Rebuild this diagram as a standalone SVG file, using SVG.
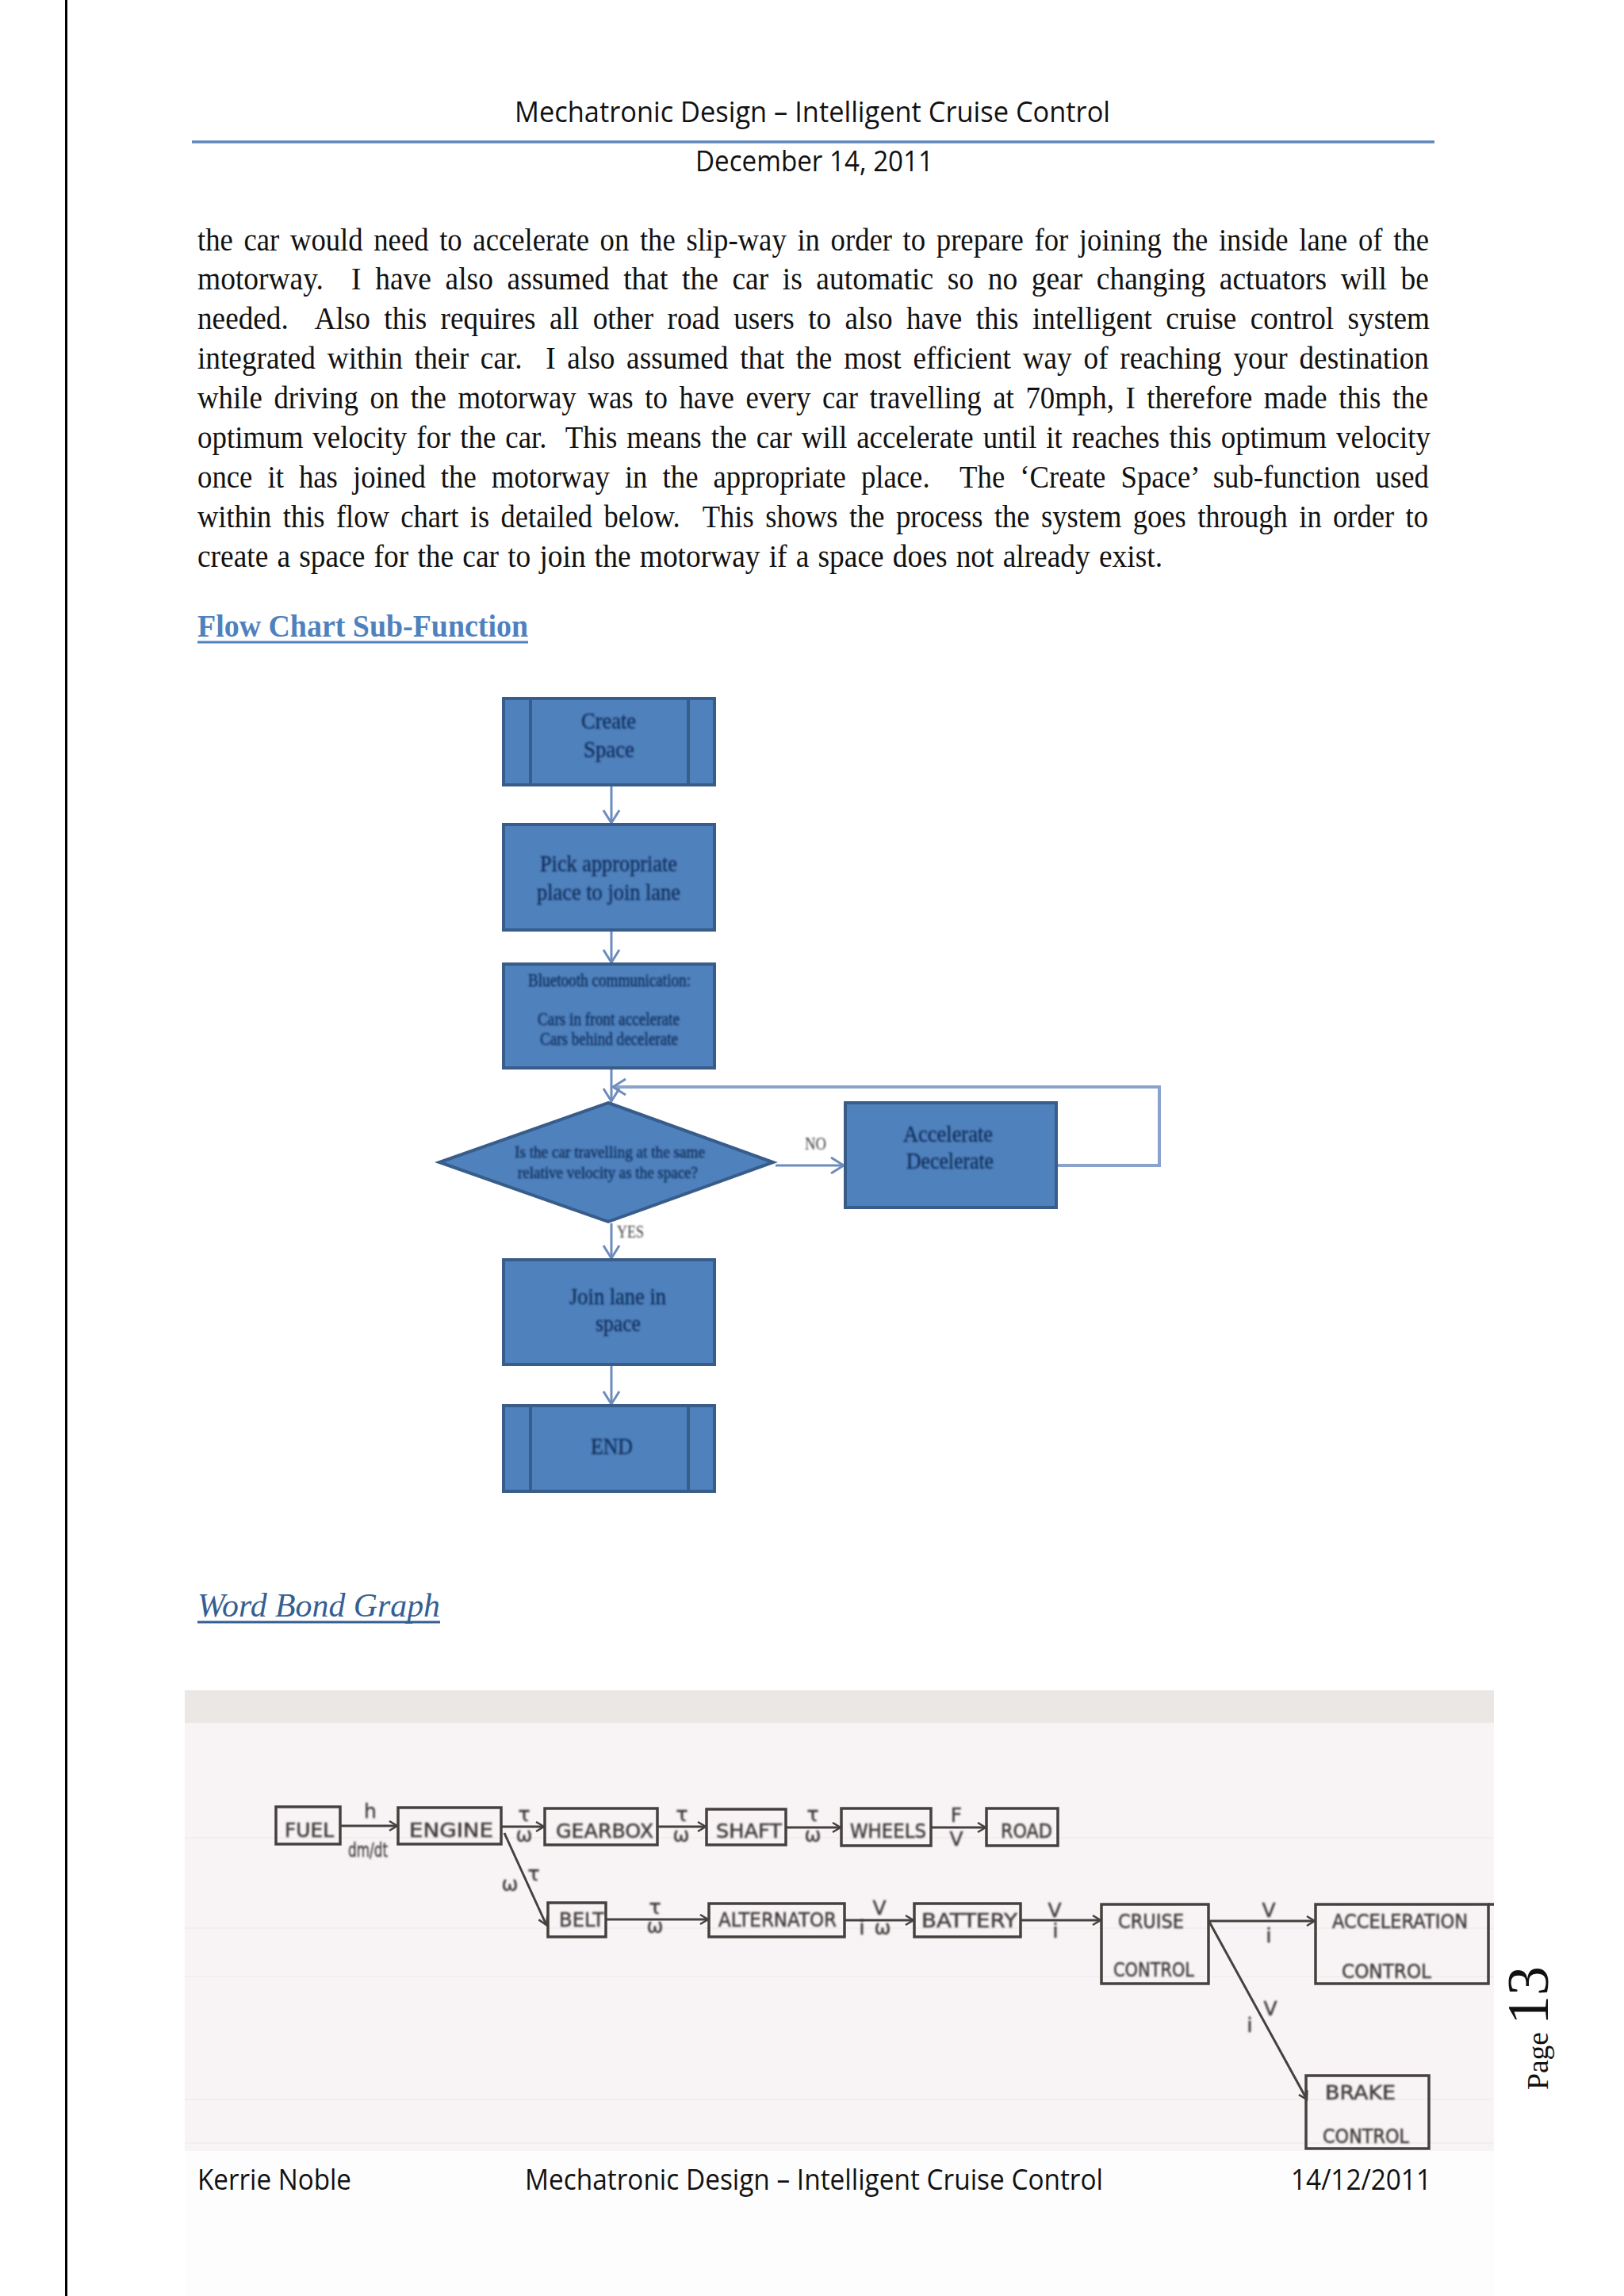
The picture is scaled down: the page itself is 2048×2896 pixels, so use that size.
<svg xmlns="http://www.w3.org/2000/svg" width="2048" height="2896" viewBox="0 0 2048 2896">
<style>
.hdr{font-family:"Open Sans","Noto Sans",sans-serif;font-size:36px;fill:#111}
.body{font-family:"Liberation Serif","Times New Roman",serif;font-size:41px;fill:#111}
.node{fill:#4f81bd;stroke:#385d8a;stroke-width:4}
.bar{fill:none;stroke:#385d8a;stroke-width:4}
.ft{font-family:"Liberation Serif",serif;font-size:29px;fill:#14305c;stroke:#14305c;stroke-width:.4;filter:url(#soft)}
.lbl{font-family:"Liberation Serif",serif;font-size:24px;fill:#3c3c3c;filter:url(#soft)}
.fc{fill:none;stroke:#6d8cbd;stroke-width:3}
.loop{fill:none;stroke:#8ba3cc;stroke-width:4}
.box{fill:none;stroke:#45413f;stroke-width:3.5}
.hw{font-family:"DejaVu Sans",sans-serif;font-size:25px;fill:#3f3b3b;stroke:#3f3b3b;stroke-width:.5;filter:url(#soft)}
.sym{font-family:"DejaVu Sans",sans-serif;font-size:25px;fill:#3f3b3b;stroke:#3f3b3b;stroke-width:.4;text-anchor:middle;filter:url(#soft)}
.wb{fill:none;stroke:#45413f;stroke-width:3}
.rule{stroke:#f2eeef;stroke-width:2}
</style>
<defs>
<filter id="soft" x="-10%" y="-30%" width="120%" height="160%"><feGaussianBlur stdDeviation="0.9"/></filter>
<marker id="fa" markerUnits="userSpaceOnUse" markerWidth="24" markerHeight="26" refX="20" refY="13" orient="auto"><path d="M4 3 L20 13 L4 23" fill="none" stroke="#6d8cbd" stroke-width="3"/></marker>
<marker id="wa" markerUnits="userSpaceOnUse" markerWidth="16" markerHeight="16" refX="13" refY="8" orient="auto"><path d="M3 2 L13 8 L3 14" fill="none" stroke="#45413f" stroke-width="2.5"/></marker>
</defs>
<rect width="2048" height="2896" fill="#ffffff"/>
<rect x="233" y="2713" width="1651" height="183" fill="#fdfdfd"/>
<line x1="83.5" y1="0" x2="83.5" y2="2896" stroke="#000" stroke-width="3"/>

<g id="page-header">
<text class="hdr" x="649" y="154" textLength="751" lengthAdjust="spacingAndGlyphs">Mechatronic Design – Intelligent Cruise Control</text>
<line x1="242" y1="179" x2="1809" y2="179" stroke="#5f86b9" stroke-width="3.5"/>
<text class="hdr" x="877" y="216" textLength="300" lengthAdjust="spacingAndGlyphs">December 14, 2011</text>
</g>

<g id="body-text">
<text class="body" xml:space="preserve" x="249" y="316" word-spacing="5" textLength="1553" lengthAdjust="spacingAndGlyphs">the car would need to accelerate on the slip-way in order to prepare for joining the inside lane of the</text>
<text class="body" xml:space="preserve" x="249" y="365" word-spacing="9" textLength="1553" lengthAdjust="spacingAndGlyphs">motorway.  I have also assumed that the car is automatic so no gear changing actuators will be</text>
<text class="body" xml:space="preserve" x="249" y="415" word-spacing="9" textLength="1554" lengthAdjust="spacingAndGlyphs">needed.  Also this requires all other road users to also have this intelligent cruise control system</text>
<text class="body" xml:space="preserve" x="249" y="465" word-spacing="6" textLength="1553" lengthAdjust="spacingAndGlyphs">integrated within their car.  I also assumed that the most efficient way of reaching your destination</text>
<text class="body" xml:space="preserve" x="249" y="515" word-spacing="6" textLength="1552" lengthAdjust="spacingAndGlyphs">while driving on the motorway was to have every car travelling at 70mph, I therefore made this the</text>
<text class="body" xml:space="preserve" x="249" y="565" word-spacing="3" textLength="1555" lengthAdjust="spacingAndGlyphs">optimum velocity for the car.  This means the car will accelerate until it reaches this optimum velocity</text>
<text class="body" xml:space="preserve" x="249" y="615" word-spacing="11" textLength="1553" lengthAdjust="spacingAndGlyphs">once it has joined the motorway in the appropriate place.  The ‘Create Space’ sub-function used</text>
<text class="body" xml:space="preserve" x="249" y="665" word-spacing="6" textLength="1552" lengthAdjust="spacingAndGlyphs">within this flow chart is detailed below.  This shows the process the system goes through in order to</text>
<text class="body" xml:space="preserve" x="249" y="715" word-spacing="2" textLength="1217" lengthAdjust="spacingAndGlyphs">create a space for the car to join the motorway if a space does not already exist.</text>
</g>

<g id="heading-flow">
<text x="249" y="803" font-family="Liberation Serif, serif" font-weight="700" font-size="41" fill="#4f81bd" textLength="417" lengthAdjust="spacingAndGlyphs">Flow Chart Sub-Function</text>
<line x1="249" y1="810" x2="666" y2="810" stroke="#4f81bd" stroke-width="3"/>
</g>

<g id="connectors-flow">
<path class="fc" marker-end="url(#fa)" d="M771 991V1038"/>
<path class="fc" marker-end="url(#fa)" d="M771 1174V1214"/>
<path class="fc" marker-end="url(#fa)" d="M771 1348V1389"/>
<path class="fc" marker-end="url(#fa)" d="M771 1543V1587"/>
<path class="fc" marker-end="url(#fa)" d="M771 1722V1771"/>
<path class="fc" marker-end="url(#fa)" d="M978 1470H1064"/>
<path class="loop" marker-end="url(#fa)" d="M1333 1470H1462V1371H773"/>
</g>

<g id="n-create"><rect class="node" x="635" y="881" width="266" height="109"/><path class="bar" d="M669 881V990M868 881V990"/><text class="ft" x="733" y="919" textLength="69" lengthAdjust="spacingAndGlyphs">Create</text><text class="ft" x="736" y="955" textLength="64" lengthAdjust="spacingAndGlyphs">Space</text></g>
<g id="n-pick"><rect class="node" x="635" y="1040" width="266" height="133"/><text class="ft" x="681" y="1099" textLength="173" lengthAdjust="spacingAndGlyphs">Pick appropriate</text><text class="ft" x="677" y="1135" textLength="181" lengthAdjust="spacingAndGlyphs">place to join lane</text></g>
<g id="n-bluetooth"><rect class="node" x="635" y="1216" width="266" height="131"/><text class="ft" style="font-size:23px" x="666" y="1244" textLength="205" lengthAdjust="spacingAndGlyphs">Bluetooth communication:</text><text class="ft" style="font-size:23px" x="678" y="1293" textLength="179" lengthAdjust="spacingAndGlyphs">Cars in front accelerate</text><text class="ft" style="font-size:23px" x="681" y="1318" textLength="174" lengthAdjust="spacingAndGlyphs">Cars behind decelerate</text></g>
<g id="n-decision"><polygon class="node" points="767,1391 975,1466 767,1541 554,1466"/><text class="ft" style="font-size:21px" x="649" y="1460" textLength="240" lengthAdjust="spacingAndGlyphs">Is the car travelling at the same</text><text class="ft" style="font-size:21px" x="653" y="1486" textLength="227" lengthAdjust="spacingAndGlyphs">relative velocity as the space?</text></g>
<g id="n-accel"><rect class="node" x="1066" y="1391" width="266" height="132"/><text class="ft" x="1139" y="1440" textLength="113" lengthAdjust="spacingAndGlyphs">Accelerate</text><text class="ft" x="1143" y="1474" textLength="110" lengthAdjust="spacingAndGlyphs">Decelerate</text></g>
<g id="n-join"><rect class="node" x="635" y="1589" width="266" height="132"/><text class="ft" x="718" y="1645" textLength="122" lengthAdjust="spacingAndGlyphs">Join lane in</text><text class="ft" x="751" y="1679" textLength="57" lengthAdjust="spacingAndGlyphs">space</text></g>
<g id="n-end"><rect class="node" x="635" y="1773" width="266" height="108"/><path class="bar" d="M669 1773V1881M868 1773V1881"/><text class="ft" x="745" y="1834" textLength="53" lengthAdjust="spacingAndGlyphs">END</text></g>
<text class="lbl" x="1015" y="1450" textLength="27" lengthAdjust="spacingAndGlyphs">NO</text>
<text class="lbl" x="778" y="1561" textLength="34" lengthAdjust="spacingAndGlyphs">YES</text>

<g id="heading-bond">
<text x="249" y="2039" font-family="Liberation Serif, serif" font-style="italic" font-size="42" fill="#365f91" textLength="306" lengthAdjust="spacingAndGlyphs">Word Bond Graph</text>
<line x1="249" y1="2046" x2="555" y2="2046" stroke="#365f91" stroke-width="3"/>
</g>

<g id="photo">
<rect x="233" y="2132" width="1651" height="581" fill="#f8f3f4"/>
<rect x="233" y="2132" width="1651" height="41" fill="#ebe7e5"/>
<path class="rule" d="M233 2318H1884M233 2432H1884M233 2493H1884M233 2648H1884M233 2703H1884"/>
</g>

<g id="connectors-bond">
<path class="wb" marker-end="url(#wa)" d="M430 2303H501"/>
<path class="wb" marker-end="url(#wa)" d="M633 2304H686"/>
<path class="wb" marker-end="url(#wa)" d="M830 2304H890"/>
<path class="wb" marker-end="url(#wa)" d="M992 2305H1060"/>
<path class="wb" marker-end="url(#wa)" d="M1175 2305H1243"/>
<path class="wb" marker-end="url(#wa)" d="M636 2312L689 2428"/>
<path class="wb" marker-end="url(#wa)" d="M765 2421H893"/>
<path class="wb" marker-end="url(#wa)" d="M1066 2422H1152"/>
<path class="wb" marker-end="url(#wa)" d="M1288 2422H1388"/>
<path class="wb" marker-end="url(#wa)" d="M1525 2423H1658"/>
<path class="wb" marker-end="url(#wa)" d="M1525 2424L1648 2648"/>
</g>

<g id="b-fuel"><rect class="box" x="348" y="2279" width="81" height="47"/><text class="hw" x="359" y="2317" textLength="62" lengthAdjust="spacingAndGlyphs">FUEL</text></g>
<g id="b-engine"><rect class="box" x="502" y="2280" width="130" height="46"/><text class="hw" x="516" y="2317" textLength="106" lengthAdjust="spacingAndGlyphs">ENGINE</text></g>
<g id="b-gearbox"><rect class="box" x="687" y="2281" width="142" height="46"/><text class="hw" x="701" y="2318" textLength="123" lengthAdjust="spacingAndGlyphs">GEARBOX</text></g>
<g id="b-shaft"><rect class="box" x="891" y="2282" width="100" height="45"/><text class="hw" x="903" y="2318" textLength="83" lengthAdjust="spacingAndGlyphs">SHAFT</text></g>
<g id="b-wheels"><rect class="box" x="1061" y="2281" width="113" height="47"/><text class="hw" x="1072" y="2318" textLength="96" lengthAdjust="spacingAndGlyphs">WHEELS</text></g>
<g id="b-road"><rect class="box" x="1244" y="2281" width="90" height="47"/><text class="hw" x="1262" y="2318" textLength="65" lengthAdjust="spacingAndGlyphs">ROAD</text></g>
<g id="b-belt"><rect class="box" x="691" y="2400" width="73" height="43"/><text class="hw" x="705" y="2430" textLength="57" lengthAdjust="spacingAndGlyphs">BELT</text></g>
<g id="b-alternator"><rect class="box" x="894" y="2401" width="171" height="42"/><text class="hw" x="906" y="2430" textLength="149" lengthAdjust="spacingAndGlyphs">ALTERNATOR</text></g>
<g id="b-battery"><rect class="box" x="1153" y="2401" width="134" height="42"/><text class="hw" x="1162" y="2431" textLength="121" lengthAdjust="spacingAndGlyphs">BATTERY</text></g>
<g id="b-cruise"><rect class="box" x="1389" y="2402" width="135" height="100"/><text class="hw" x="1410" y="2432" textLength="83" lengthAdjust="spacingAndGlyphs">CRUISE</text><text class="hw" x="1404" y="2493" textLength="102" lengthAdjust="spacingAndGlyphs">CONTROL</text></g>
<g id="b-acceleration"><rect class="box" x="1659" y="2402" width="218" height="100"/><path class="box" d="M1877 2402H1884"/><text class="hw" x="1680" y="2432" textLength="171" lengthAdjust="spacingAndGlyphs">ACCELERATION</text><text class="hw" x="1692" y="2495" textLength="113" lengthAdjust="spacingAndGlyphs">CONTROL</text></g>
<g id="b-brake"><rect class="box" x="1647" y="2618" width="155" height="92"/><text class="hw" x="1671" y="2648" textLength="89" lengthAdjust="spacingAndGlyphs">BRAKE</text><text class="hw" x="1668" y="2703" textLength="109" lengthAdjust="spacingAndGlyphs">CONTROL</text></g>

<g id="bond-labels">
<text class="sym" x="467" y="2293">h</text>
<text class="sym" x="464" y="2342" textLength="50" lengthAdjust="spacingAndGlyphs">dm/dt</text>
<text class="sym" x="661" y="2297">τ</text><text class="sym" x="661" y="2323">ω</text>
<text class="sym" x="860" y="2297">τ</text><text class="sym" x="859" y="2323">ω</text>
<text class="sym" x="1025" y="2297">τ</text><text class="sym" x="1025" y="2323">ω</text>
<text class="sym" x="1206" y="2298">F</text><text class="sym" x="1206" y="2328">V</text>
<text class="sym" x="673" y="2372">τ</text><text class="sym" x="643" y="2385">ω</text>
<text class="sym" x="826" y="2414">τ</text><text class="sym" x="826" y="2438">ω</text>
<text class="sym" x="1109" y="2415">V</text><text class="sym" x="1087" y="2440">i</text><text class="sym" x="1113" y="2440">ω</text>
<text class="sym" x="1330" y="2418">V</text><text class="sym" x="1331" y="2444">i</text>
<text class="sym" x="1600" y="2418">V</text><text class="sym" x="1600" y="2450">i</text>
<text class="sym" x="1602" y="2542">V</text><text class="sym" x="1576" y="2563">i</text>
</g>

<g id="page-number">
<text transform="translate(1952 2636) rotate(-90)" font-family="Liberation Serif, serif" font-size="37.6" fill="#111">Page</text>
<text transform="translate(1952 2554) rotate(-90)" font-family="Liberation Serif, serif" font-size="74" fill="#111">13</text>
</g>

<g id="page-footer">
<text class="hdr" x="249" y="2762" textLength="194" lengthAdjust="spacingAndGlyphs">Kerrie Noble</text>
<text class="hdr" x="662" y="2762" textLength="729" lengthAdjust="spacingAndGlyphs">Mechatronic Design – Intelligent Cruise Control</text>
<text class="hdr" x="1628" y="2762" textLength="177" lengthAdjust="spacingAndGlyphs">14/12/2011</text>
</g>
</svg>
